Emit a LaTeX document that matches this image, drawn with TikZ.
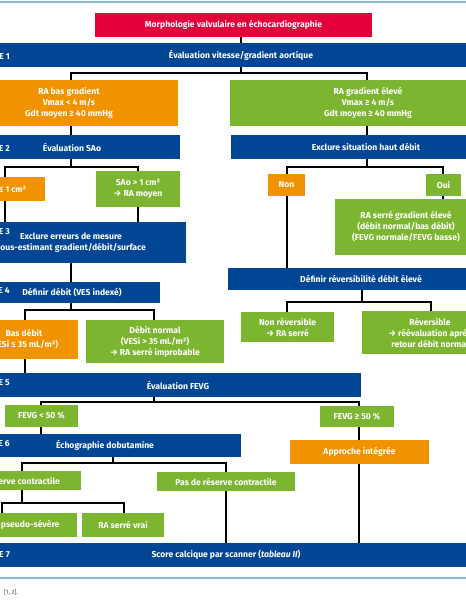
\documentclass[tikz,border=0pt]{standalone}
\usepackage{fontspec}
\setmainfont{Fira Sans}
\definecolor{cred}{RGB}{228,0,58}
\definecolor{cblue}{RGB}{0,70,148}
\definecolor{corange}{RGB}{241,146,0}
\definecolor{cgreen}{RGB}{124,181,48}
\definecolor{cline}{RGB}{140,185,215}
\begin{document}
\begin{tikzpicture}[x=1pt,y=-1pt,
  box/.style={inner sep=0pt, align=center, text=white, font=\fontsize{8.6}{11}\selectfont\bfseries},
  band/.style={box, fill=cblue},
  rbox/.style={box, fill=cred},
  obox/.style={box, fill=corange},
  gbox/.style={box, fill=cgreen},
  steplbl/.style={inner sep=0pt, text=white, font=\fontsize{8.6}{11}\selectfont\bfseries, anchor=east},
  conn/.style={draw=black, line width=1.3pt},
  rule/.style={draw=cline, line width=1.2pt}]
\useasboundingbox (0,0) rectangle (466,600);
\fill[white] (0,0) rectangle (466,600);
\draw[rule] (0,2) -- (466,2);
\draw[rule] (0,578) -- (466,578);

\coordinate (j1) at (241,73);
\coordinate (j2l) at (71,167);
\coordinate (j2r) at (367,167);
\coordinate (j4) at (71,310);
\coordinate (jdr) at (362,302);
\coordinate (j5) at (154,402);
\coordinate (j6) at (113,463);
\coordinate (jrc) at (22,503);

% connectors (drawn first, below boxes)
\draw[conn] (241,37) -- (241,43);
\draw[conn] (241,67) -- (j1);
\draw[conn] (71,80) |- (j1) -| (367,80);
\draw[conn] (71,126) -- (71,135);
\draw[conn] (367,126) -- (367,135);
\draw[conn] (71,159) -- (j2l);
\draw[conn] (5,177) |- (j2l) -| (138,171);
\draw[conn] (5,201) -- (5,222);
\draw[conn] (138,207) -- (138,222);
\draw[conn] (71,263) -- (71,282);
\draw[conn] (71,303) -- (j4);
\draw[conn] (25,320) |- (j4) -| (154,320);
\draw[conn] (25,359) -- (25,373);
\draw[conn] (154,397) -- (j5);
\draw[conn] (41,405) |- (j5) -| (359,406);
\draw[conn] (41,427) -- (41,434);
\draw[conn] (359,427) -- (359,440);
\draw[conn] (359,464) -- (359,543);
\draw[conn] (113,457) -- (j6);
\draw[conn] (22,471) |- (j6) -| (226,472);
\draw[conn] (22,490) -- (jrc);
\draw[conn] (2,513) |- (jrc) -| (124,513);
\draw[conn] (226,491) -- (226,543);
\draw[conn] (367,159) -- (j2r);
\draw[conn] (287,174) |- (j2r) -| (443,174);
\draw[conn] (287,196) -- (287,268);
\draw[conn] (443,196) -- (443,199);
\draw[conn] (362,290) -- (jdr);
\draw[conn] (287,312) |- (jdr) -| (431,311);

% boxes
\node[rbox, minimum width=277pt, minimum height=24pt] (red) at (233.5,25) {Morphologie valvulaire en échocardiographie};
\node[band, minimum width=500pt, minimum height=24pt] (b1) at (241,55) {Évaluation vitesse/gradient aortique};
\node[steplbl] (l1) at (10,55) {ÉTAPE 1};

\node[obox, minimum width=218pt, minimum height=46pt] (ra) at (69,103) {RA bas gradient\\Vmax < 4 m/s\\Gdt moyen ≥ 40 mmHg};
\node[gbox, minimum width=276pt, minimum height=46pt] (rb) at (368,103) {RA gradient élevé\\Vmax ≥ 4 m/s\\Gdt moyen ≥ 40 mmHg};

\node[band, minimum width=216pt, minimum height=24pt] (b2l) at (72,147) {Évaluation SAo};
\node[steplbl] (l2) at (10,147) {ÉTAPE 2};
\node[band, minimum width=270pt, minimum height=24pt] (b2r) at (366,147) {Exclure situation haut débit};

\node[obox, minimum width=82pt, minimum height=24pt] (sa1) at (4,189) {SAo ≤ 1 cm²};
\node[gbox, minimum width=84pt, minimum height=36pt] (sa2) at (138,189) {SAo > 1 cm²\\→ RA moyen};

\node[obox, minimum width=37pt, minimum height=22pt] (non) at (286.5,185) {Non};
\node[gbox, minimum width=35pt, minimum height=22pt] (oui) at (443.5,185) {Oui};
\node[gbox, minimum width=142pt, minimum height=56pt] (rs) at (406,227) {RA serré gradient élevé\\(débit normal/bas débit)\\(FEVG normale/FEVG basse)};

\node[band, minimum width=230pt, minimum height=41pt] (b3) at (71,242.5) {Exclure erreurs de mesure\\sous-estimant gradient/débit/surface};
\node[steplbl] (l3) at (10,230) {ÉTAPE 3};

\node[band, minimum width=266pt, minimum height=22pt] (dr) at (361,279) {Définir réversibilité débit élevé};

\node[band, minimum width=176pt, minimum height=21pt] (b4) at (72,292.5) {Définir débit (VES indexé)};
\node[steplbl] (l4) at (10,289) {ÉTAPE 4};

\node[obox, minimum width=108pt, minimum height=39pt] (bd) at (24,339.5) {Bas débit\\(VESi ≤ 35 mL/m²)};
\node[gbox, minimum width=138pt, minimum height=43pt] (dn) at (155,341.5) {Débit normal\\(VESi > 35 mL/m²)\\→ RA serré improbable};

\node[gbox, minimum width=93pt, minimum height=30pt] (nr) at (287.5,327) {Non réversible\\→ RA serré};
\node[gbox, minimum width=136pt, minimum height=43pt] (rv) at (430,332.5) {Réversible\\→ réévaluation après\\retour débit normal};

\node[band, minimum width=366pt, minimum height=24pt] (b5) at (178,385) {Évaluation FEVG};
\node[steplbl] (l5) at (10,381) {ÉTAPE 5};

\node[gbox, minimum width=73pt, minimum height=22pt] (f1) at (41.5,416) {FEVG < 50 \%};
\node[gbox, minimum width=74pt, minimum height=21pt] (f2) at (357,416.5) {FEVG ≥ 50 \%};

\node[band, minimum width=272pt, minimum height=23pt] (b6) at (105,445.5) {Échographie dobutamine};
\node[steplbl] (l6) at (10,442) {ÉTAPE 6};
\node[obox, minimum width=139pt, minimum height=24pt] (ai) at (359.5,452) {Approche intégrée};

\node[gbox, minimum width=118pt, minimum height=19pt] (rc) at (22,480.5) {Réserve contractile};
\node[gbox, minimum width=138pt, minimum height=19pt] (pr) at (226,481.5) {Pas de réserve contractile};

\node[gbox, minimum width=106pt, minimum height=24pt] (ps) at (24,525) {RA pseudo-sévère};
\node[gbox, minimum width=82pt, minimum height=24pt] (sv) at (123,525) {RA serré vrai};

\node[band, minimum width=520pt, minimum height=24pt] (b7) at (226,555) {Score calcique par scanner (\textit{tableau II})};
\node[steplbl] (l7) at (10,553) {ÉTAPE 7};

\node[anchor=west, inner sep=0pt, text=black!70, font=\fontsize{6}{7}\selectfont] (ft) at (4,593) {[1, 2].};
\end{tikzpicture}
\end{document}
